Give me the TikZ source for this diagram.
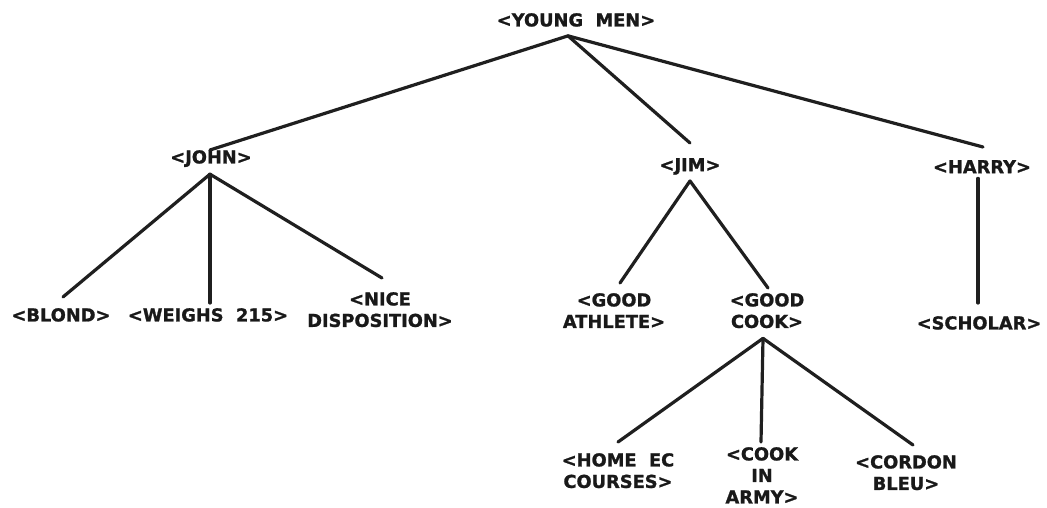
\documentclass[tikz,border=0pt]{standalone}
\usepackage{fontspec}
\setmainfont{DejaVu Sans}[BoldFeatures={FakeBold=1.2}]
\begin{document}
\begin{tikzpicture}[x=1pt,y=-1pt,
  lab/.style={inner sep=0pt,anchor=north,align=center,text=black!90,
    font=\bfseries\fontsize{17.8}{21.5}\selectfont},
  edge/.style={line width=3.2pt,line cap=round,draw=black!88}]
\useasboundingbox[fill=white] (0,0) rectangle (1047,508);
% nodes
\node[lab] (root) at (576,13) {<YOUNG\ \ MEN>};
\node[lab] (john) at (211,150) {<JOHN>};
\node[lab] (jim) at (690,158) {<JIM>};
\node[lab] (harry) at (982,160) {<HARRY>};
\node[lab] (blond) at (61,308) {<BLOND>};
\node[lab] (weighs) at (208,308) {<WEIGHS\ \ 215>};
\node[lab] (nice) at (380,292) {<NICE\\DISPOSITION>};
\node[lab] (athlete) at (614,293) {<GOOD\\ATHLETE>};
\node[lab] (cook) at (767,293) {<GOOD\\COOK>};
\node[lab] (scholar) at (979,316) {<SCHOLAR>};
\node[lab] (home) at (618,453) {<HOME\ \ EC\\COURSES>};
\node[lab] (army) at (762,447) {<COOK\\IN\\ARMY>};
\node[lab] (cordon) at (906,455) {<CORDON\\BLEU>};
% connectors
\draw[edge] ([shift={(-8,9)}]root.south) -- ([shift={(-1,0)}]john.north);
\draw[edge] ([shift={(-8,9)}]root.south) -- ([shift={(0,-15)}]jim.north);
\draw[edge] ([shift={(-8,9)}]root.south) -- ([shift={(1,-13)}]harry.north);
\draw[edge] ([shift={(-1,7)}]john.south) -- ([shift={(2,-11)}]blond.north);
\draw[edge] ([shift={(-1,7)}]john.south) -- ([shift={(2,-5)}]weighs.north);
\draw[edge] ([shift={(-1,7)}]john.south) -- ([shift={(2,-14)}]nice.north);
\draw[edge] ([shift={(0,6)}]jim.south) -- ([shift={(6,-10)}]athlete.north);
\draw[edge] ([shift={(0,6)}]jim.south) -- ([shift={(1,-5)}]cook.north);
\draw[edge] ([shift={(-4,5)}]harry.south) -- ([shift={(-1,-13)}]scholar.north);
\draw[edge] ([shift={(-4,10)}]cook.south) -- ([shift={(0,-11)}]home.north);
\draw[edge] ([shift={(-4,10)}]cook.south) -- ([shift={(-1,-5)}]army.north);
\draw[edge] ([shift={(-4,10)}]cook.south) -- ([shift={(7,-10)}]cordon.north);
\end{tikzpicture}
\end{document}
